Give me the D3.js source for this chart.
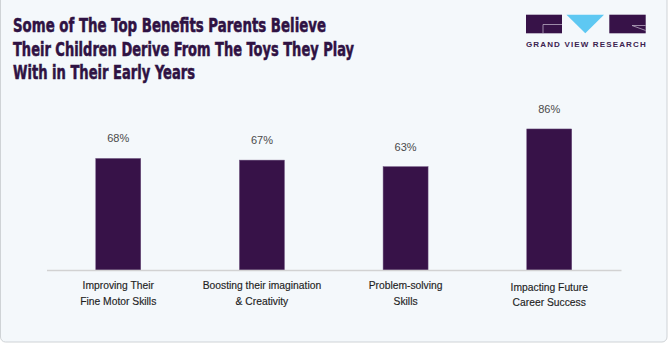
<!DOCTYPE html>
<html>
<head>
<meta charset="utf-8">
<script src="https://cdn.jsdelivr.net/npm/d3@7/dist/d3.min.js"></script>
<style>
html,body{margin:0;padding:0;background:#ffffff;}
svg{display:block;}
</style>
</head>
<body>
<svg id="chart" width="668" height="345"></svg>
<script>
// ---- data ----
const titleLines = [
  "Some of The Top Benefits Parents Believe",
  "Their Children Derive From The Toys They Play",
  "With in Their Early Years"
];
const categories = [
  ["Improving Their", "Fine Motor Skills"],
  ["Boosting their imagination", "& Creativity"],
  ["Problem-solving", "Skills"],
  ["Impacting Future", "Career Success"]
];
const values = [68, 67, 63, 86];
const valueLabels = ["68%", "67%", "63%", "86%"];
const brandText = "GRAND VIEW RESEARCH";

// ---- drawing ----
const W = 668, H = 345;
const svg = d3.select("#chart");
const purple = "#371248";

svg.append("rect")
  .attr("x", 0.5).attr("y", -6).attr("width", W - 1.5).attr("height", H - 2 + 5)
  .attr("rx", 5).attr("fill", "#f4f8fb").attr("stroke", "#cfd3d6").attr("stroke-width", 1);

// title
const titleWidths = [313, 341, 182];
svg.append("g").selectAll("text").data(titleLines).join("text")
  .attr("x", 13)
  .attr("y", (d, i) => 32 + i * 23.5)
  .attr("textLength", (d, i) => titleWidths[i])
  .attr("lengthAdjust", "spacingAndGlyphs")
  .attr("font-family", "'Liberation Sans Narrow','Arial Narrow','DejaVu Sans Condensed',sans-serif")
  .attr("font-weight", "bold")
  .attr("font-size", 19)
  .attr("fill", "#2f1243")
  .attr("stroke", "#2f1243").attr("stroke-width", 0.5)
  .text(d => d);

// logo
const logo = svg.append("g");
logo.append("rect").attr("x", 526).attr("y", 14.7).attr("width", 36).attr("height", 18.6).attr("fill", purple);
logo.append("path").attr("d", "M543,33.3 L543,24.5 L562,24.5").attr("fill", "none").attr("stroke", "#b7a9c2").attr("stroke-width", 0.8);
logo.append("path").attr("d", "M566.5,14.7 L604,14.7 L585.3,33.3 Z").attr("fill", "#5ec8f2");
logo.append("rect").attr("x", 609.3).attr("y", 14.7).attr("width", 36.4).attr("height", 18.6).attr("fill", purple);
logo.append("path").attr("d", "M645.7,25.5 L632,25.5 L645.7,30.5").attr("fill", "none").attr("stroke", "#b7a9c2").attr("stroke-width", 0.8);
logo.append("text")
  .attr("x", 526).attr("y", 46.5)
  .attr("textLength", 119.7).attr("lengthAdjust", "spacing")
  .attr("font-family", "'Liberation Sans','Arial',sans-serif")
  .attr("font-weight", "bold").attr("font-size", 8)
  .attr("fill", "#3b2350")
  .text(brandText);

// scales
const x = d3.scaleBand().domain(d3.range(categories.length)).range([46.5, 621]).paddingInner(0.687).paddingOuter(0.343);
const y = d3.scaleLinear().domain([0, 100]).range([270, 106]);

// bars
svg.append("g").selectAll("rect").data(values).join("rect")
  .attr("x", (d, i) => x(i))
  .attr("y", d => y(d))
  .attr("width", x.bandwidth())
  .attr("height", d => y(0) - y(d))
  .attr("fill", purple)
  .attr("stroke", "#6b4f7c").attr("stroke-width", 0.5);

// axis baseline
const xAxis = d3.axisBottom(x).tickSize(0).tickFormat("");
const ax = svg.append("g").attr("transform", `translate(0,${y(0)})`).call(xAxis);
ax.select(".domain").attr("stroke", "#d2d2d2").attr("stroke-width", 1.6);

// value labels
svg.append("g").selectAll("text").data(values).join("text")
  .attr("x", (d, i) => x(i) + x.bandwidth() / 2)
  .attr("y", d => y(d) - 16)
  .attr("text-anchor", "middle")
  .attr("font-family", "'Liberation Sans','Arial',sans-serif")
  .attr("font-size", 11)
  .attr("fill", "#4a4a4a")
  .text((d, i) => valueLabels[i]);

// category labels
const cg = svg.append("g");
categories.forEach((lines, i) => {
  const t = cg.append("text")
    .attr("x", x(i) + x.bandwidth() / 2)
    .attr("y", 289 + (i === 3 ? 1.5 : 0))
    .attr("text-anchor", "middle")
    .attr("font-family", "'Liberation Sans','Arial',sans-serif")
    .attr("font-size", 10.3)
    .attr("fill", "#1e1e1e")
    .attr("stroke", "#1e1e1e").attr("stroke-width", 0.15);
  lines.forEach((l, j) => {
    t.append("tspan").attr("x", x(i) + x.bandwidth() / 2).attr("dy", j === 0 ? 0 : 15.5).text(l);
  });
});
</script>
</body>
</html>
